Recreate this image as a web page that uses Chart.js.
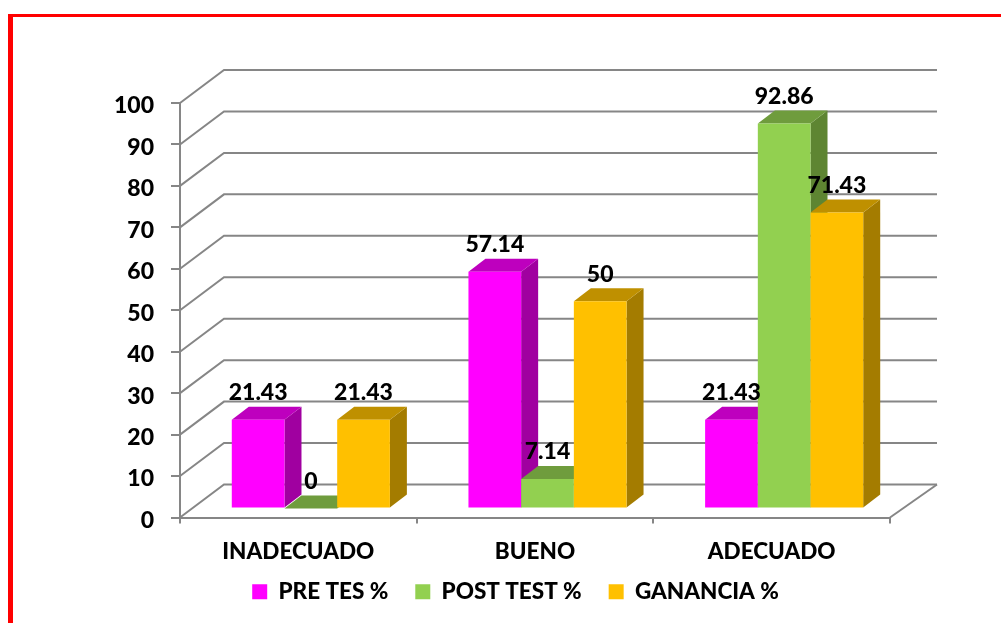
<!DOCTYPE html>
<html>
<head>
<meta charset="utf-8">
<script src="https://cdn.jsdelivr.net/npm/chart.js@4/dist/chart.umd.min.js"></script>
<style>
html, body { margin: 0; padding: 0; background: #fff; overflow: hidden; }
#frame { position: absolute; left: 8px; top: 14px; width: 993px; height: 609px; box-sizing: border-box; border-left: 5px solid #ff0000; border-top: 3px solid #ff0000; }
#wrap { position: absolute; left: 33px; top: 0; width: 968px; height: 624px; }
</style>
</head>
<body>
<div id="frame"></div>
<div id="wrap"><canvas id="myChart"></canvas></div>
<script>
'use strict';

let categories = ['INADECUADO', 'BUENO', 'ADECUADO'];
let preTest = [21.43, 57.14, 21.43];
let postTest = [0, 7.14, 92.86];
let ganancia = [21.43, 50, 71.43];

let fontName = 'Lato, sans-serif';

// wall offset and bar offset of the fake 3d box
let wallX = 44, wallY = -33;
let shiftX = 12.5, shiftY = -9;
let depthX = 17, depthY = -13;

let shades = [
    { top: '#BE00BE', side: '#A000A0' },
    { top: '#6F9C3D', side: '#5E8532' },
    { top: '#BF9000', side: '#A47C00' }
];

function poly(ctx, pts, color) {
    ctx.fillStyle = color;
    ctx.beginPath();
    ctx.moveTo(pts[0][0], pts[0][1]);
    for (let i = 1; i < pts.length; i++) {
        ctx.lineTo(pts[i][0], pts[i][1]);
    }
    ctx.closePath();
    ctx.fill();
}

let box3d = {
    id: 'box3d',
    afterLayout(chart) {
        // legend sits off centre from the plot and close under the labels
        let legend = chart.legend;
        legend.left += 54;
        legend.right += 54;
        legend.top -= 11;
        legend.bottom -= 11;
    },
    beforeDatasetsDraw(chart) {
        // walls and floor behind the bars
        let ctx = chart.ctx;
        let area = chart.chartArea;
        let yScale = chart.scales.y;
        ctx.save();
        ctx.strokeStyle = '#868686';
        ctx.lineWidth = 2;
        yScale.ticks.forEach(function (t) {
            let y = yScale.getPixelForValue(t.value);
            ctx.beginPath();
            ctx.moveTo(area.left, y);
            ctx.lineTo(area.left + wallX, y + wallY);
            ctx.lineTo(area.right + wallX + 3, y + wallY);
            ctx.stroke();
        });
        let y0 = yScale.getPixelForValue(0);
        ctx.beginPath();
        ctx.moveTo(area.right, y0);
        ctx.lineTo(area.right + wallX + 3, y0 + wallY);
        ctx.stroke();
        ctx.restore();
    },
    beforeDatasetDraw() {
        // bars get drawn below, left to right, so the later ones cover the earlier sides
        return false;
    },
    afterDatasetsDraw(chart) {
        let ctx = chart.ctx;
        for (let d = 0; d < chart.data.datasets.length; d++) {
            let meta = chart.getDatasetMeta(d);
            ctx.save();
            ctx.translate(shiftX, shiftY);
            meta.data.forEach(function (bar) {
                let left = bar.x - bar.width / 2;
                let right = bar.x + bar.width / 2;
                poly(ctx, [[right, bar.y], [right, bar.base], [right + depthX, bar.base + depthY], [right + depthX, bar.y + depthY]], shades[d].side);
                poly(ctx, [[left, bar.y], [right, bar.y], [right + depthX, bar.y + depthY], [left + depthX, bar.y + depthY]], shades[d].top);
            });
            meta.controller.draw();
            ctx.restore();
        }
        // value labels
        ctx.save();
        ctx.fillStyle = '#000';
        ctx.font = '900 23px ' + fontName;
        ctx.textAlign = 'center';
        ctx.textBaseline = 'middle';
        for (let d = 0; d < chart.data.datasets.length; d++) {
            let values = chart.data.datasets[d].data;
            chart.getDatasetMeta(d).data.forEach(function (bar, i) {
                ctx.fillText(String(values[i]), bar.x + shiftX, bar.y + shiftY - 27);
            });
        }
        ctx.restore();
    }
};

let ctx = document.getElementById('myChart').getContext('2d');

let chart = new Chart(ctx, {
    type: 'bar',
    data: {
        labels: categories,
        datasets: [
            { label: 'PRE TES %', data: preTest, backgroundColor: '#FF00FF', categoryPercentage: 0.668, barPercentage: 1 },
            { label: 'POST TEST %', data: postTest, backgroundColor: '#92D050', categoryPercentage: 0.668, barPercentage: 1 },
            { label: 'GANANCIA %', data: ganancia, backgroundColor: '#FFC000', categoryPercentage: 0.668, barPercentage: 1 }
        ]
    },
    options: {
        responsive: true,
        maintainAspectRatio: false,
        animation: false,
        layout: { padding: { left: 0, right: 111, top: 103, bottom: 0 } },
        plugins: {
            tooltip: { enabled: false },
            legend: {
                position: 'bottom',
                labels: {
                    boxWidth: 15,
                    boxHeight: 15,
                    padding: 27,
                    color: '#000',
                    font: { family: fontName, size: 22.5, weight: '900' }
                }
            }
        },
        scales: {
            x: {
                afterFit(scale) { scale.height = 47; },
                grid: { drawOnChartArea: false, color: '#868686', lineWidth: 2, tickLength: 6 },
                border: { color: '#868686', width: 2 },
                ticks: { color: '#000', padding: 15, font: { family: fontName, size: 22.5, weight: '900' } }
            },
            y: {
                min: 0,
                max: 100,
                afterFit(scale) { scale.width = 147; },
                grid: { drawOnChartArea: false, color: '#868686', lineWidth: 2, tickLength: 9 },
                border: { color: '#868686', width: 2 },
                ticks: { stepSize: 10, color: '#000', padding: 17, labelOffset: 3, font: { family: fontName, size: 23, weight: '900' } }
            }
        }
    },
    plugins: [box3d]
});
</script>
</body>
</html>
